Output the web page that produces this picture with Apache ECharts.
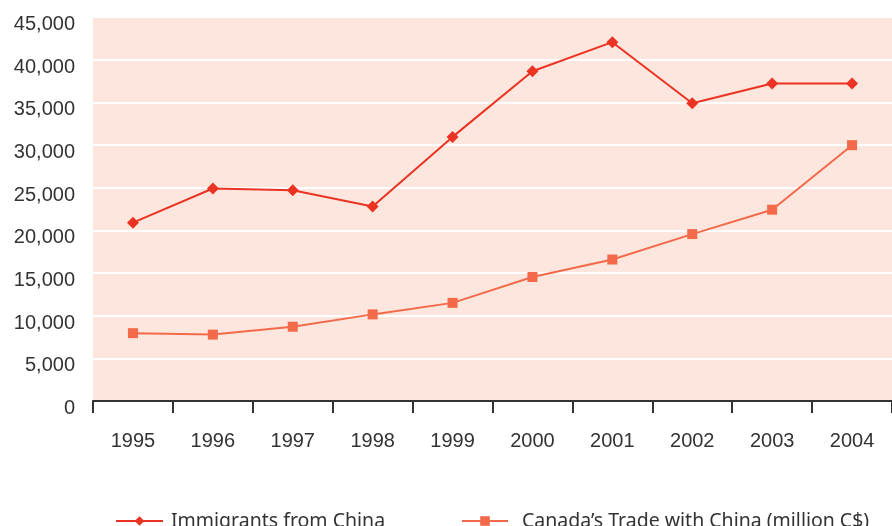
<!DOCTYPE html>
<html>
<head>
<meta charset="utf-8">
<script src="https://cdn.jsdelivr.net/npm/echarts@6/dist/echarts.min.js"></script>
<style>
  html, body { margin: 0; padding: 0; background: #fff; }
  #chart { width: 892px; height: 526px; }
</style>
</head>
<body>
<div id="chart"></div>
<script>
var years = ['1995', '1996', '1997', '1998', '1999', '2000', '2001', '2002', '2003', '2004'];
var immigrants = [20900, 24900, 24700, 22800, 30950, 38650, 42050, 34900, 37200, 37200];
var trade = [7950, 7780, 8700, 10150, 11500, 14530, 16580, 19560, 22420, 29980];
var yTicks = { min: 0, max: 45000, interval: 5000 };
var names = ['Immigrants from China', 'Canada\u2019s Trade with China (million C$)'];

var chart = echarts.init(document.getElementById('chart'));

function commas(v) {
    return String(v).replace(/\B(?=(\d{3})+(?!\d))/g, ',');
}

var legendText = { fontFamily: 'Noto Sans', fontSize: 19.5, color: '#333' };

chart.setOption({
    animation: false,
    grid: {
        left: 93, right: -5, top: 17, bottom: 125,
        show: true, backgroundColor: '#fde6dd', borderWidth: 0
    },
    legend: [
        {
            left: 110, top: 506, itemWidth: 47, itemHeight: 12,
            textStyle: Object.assign({ padding: [0, 0, 0, 3] }, legendText), data: [names[0]]
        },
        {
            left: 456, top: 506, itemWidth: 46, itemHeight: 12,
            textStyle: Object.assign({ padding: [0, 0, 0, 9] }, legendText), data: [names[1]]
        }
    ],
    xAxis: {
        type: 'category',
        data: years,
        boundaryGap: true,
        axisLine: { lineStyle: { color: '#333', width: 2 } },
        axisTick: { show: true, length: 12, lineStyle: { color: '#333', width: 2 } },
        axisLabel: { margin: 30, fontFamily: 'Liberation Sans', fontSize: 20, color: '#333' },
        splitLine: { show: false }
    },
    yAxis: {
        type: 'value',
        min: yTicks.min, max: yTicks.max, interval: yTicks.interval,
        axisLine: { show: false },
        axisTick: { show: false },
        axisLabel: {
            margin: 18, fontFamily: 'Liberation Sans', fontSize: 20, color: '#333',
            verticalAlign: 'top', lineHeight: 15,
            formatter: commas
        },
        splitLine: { lineStyle: { color: '#ffffff', width: 2 } }
    },
    series: [
        {
            name: names[0],
            type: 'line',
            data: immigrants,
            symbol: 'diamond',
            symbolSize: 12,
            itemStyle: { color: '#ea3323' },
            lineStyle: { color: '#ea3323', width: 2 }
        },
        {
            name: names[1],
            type: 'line',
            data: trade,
            symbol: 'rect',
            symbolSize: 10,
            itemStyle: { color: '#f26a4a' },
            lineStyle: { color: '#f26a4a', width: 2 }
        }
    ]
});
</script>
</body>
</html>
